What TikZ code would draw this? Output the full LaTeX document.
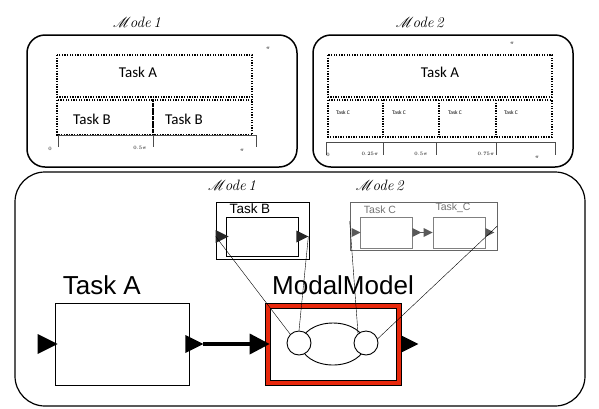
\documentclass[tikz,border=0pt]{standalone}
\usepackage{fontspec}
\usepackage{mathrsfs}
\newfontfamily\calfont{Carlito}
\newfontfamily\helv{Liberation Sans}
\usetikzlibrary{positioning,arrows.meta}

\definecolor{modalred}{RGB}{232,40,12}
\newcommand{\modename}[1]{$\mathscr{M}$\kern-1pt\textit{ode\,#1}}
\newcommand{\tinypi}[1]{{\fontsize{5}{5}\selectfont$#1\pi$}}

\tikzset{
  frame/.style={line width=1.5pt, rounded corners=18pt},
  slot/.style={line width=1.4pt, dash pattern=on 1.3pt off 1.3pt},
  block/.style={draw, line width=0.8pt, fill=white, inner sep=0pt},
  conn/.style={line width=0.4pt},
  modelabel/.style={font=\fontsize{15}{15}\selectfont},
  port/.pic={\fill[#1] (0,-10) -- (20,0) -- (0,10) -- cycle;}
}

\begin{document}
\begin{tikzpicture}[x=1pt, y=-1pt, >=stealth]
  \useasboundingbox (0,0) rectangle (599,408);

  % first schedule
  \node[modelabel] at (137,22) {\modename{1}};
  \draw[frame] (27,35) rectangle (297,167);
  \draw[slot] (57,55) rectangle (252,97);
  \draw[slot] (57,100) rectangle (153,135);
  \draw[slot] (153,100) rectangle (252,135);
  \node[font=\calfont\fontsize{15}{15}\selectfont] at (138,72) {Task A};
  \node[font=\calfont\fontsize{15}{15}\selectfont] at (92,119) {Task B};
  \node[font=\calfont\fontsize{15}{15}\selectfont] at (184,119) {Task B};
  \draw[line width=0.7pt, gray!60!black] (58,147) -- (58,135) -- (256,135) -- (256,147);
  \draw[line width=0.7pt, gray!60!black] (153,135) -- (153,147);
  \node at (50,149) {{\fontsize{5}{5}\selectfont 0}};
  \node at (140,148) {\tinypi{0.5}};
  \node at (242,150) {\tinypi{}};
  \node at (268,48) {\tinypi{}};

  % second schedule
  \node[modelabel] at (420,22) {\modename{2}};
  \draw[frame] (313,35) rectangle (573,167);
  \draw[slot] (328,55) rectangle (552,97);
  \draw[slot] (328,100) rectangle (552,137);
  \foreach \x in {383,439,496}
    \draw[slot] (\x,100) -- (\x,137);
  \foreach \x in {343,399,455,511}
    \node[font=\calfont\fontsize{5.5}{5.5}\selectfont] at (\x,113) {Task C};
  \node[font=\calfont\fontsize{15}{15}\selectfont] at (440,72) {Task A};
  \draw[line width=0.7pt, gray!60!black] (326,155) -- (326,142) -- (555,142) -- (555,155);
  \foreach \x in {383,436,496}
    \draw[line width=0.7pt, gray!60!black] (\x,142) -- (\x,155);
  \node at (328,155) {{\fontsize{5}{5}\selectfont 0}};
  \node at (370,154) {\tinypi{0.25}};
  \node at (421,154) {\tinypi{0.5}};
  \node at (486,154) {\tinypi{0.75}};
  \node at (537,157) {\tinypi{}};
  \node at (512,43) {\tinypi{}};

  % modal model
  \draw[line width=1.2pt, rounded corners=30pt] (15,172) rectangle (585,406);
  \node[modelabel] at (232,185) {\modename{1}};
  \node[modelabel] at (380,185) {\modename{2}};

  \node[block, minimum width=134pt, minimum height=82pt] (taskA) at (122,344) {};
  \node[anchor=south west, inner sep=0pt, font=\helv\fontsize{26}{26}\selectfont]
    at ([xshift=8pt, yshift=8pt]taskA.north west) {Task A};
  \pic at ([xshift=-17pt]taskA.west) {port=black};
  \pic[scale=0.9] at ([xshift=-4pt]taskA.east) {port=black};
  \coordinate (aOut) at ([xshift=14pt]taskA.east);

  \node[draw, fill=modalred, line width=0.6pt, minimum width=136pt, minimum height=82pt] (modal) at (333,344) {};
  \node[block, line width=0.6pt, minimum width=126pt, minimum height=72pt] at (modal) {};
  \node[anchor=south, inner sep=0pt, font=\helv\fontsize{26}{26}\selectfont]
    at ([xshift=10pt, yshift=8pt]modal.north) {ModalModel};
  \draw[line width=0.9pt] (modal.center) ellipse [x radius=32pt, y radius=21pt];
  \node[circle, draw, fill=white, line width=0.9pt, minimum size=24pt, inner sep=0pt] (stA) at (299,343) {};
  \node[circle, draw, fill=white, line width=0.9pt, minimum size=24pt, inner sep=0pt] (stB) at (366,343) {};
  \pic[scale=0.85] at (modal.east) {port=black};

  \draw[line width=3.5pt, -{Triangle[length=20pt, width=20pt]}] (aOut) -- ([xshift=5pt]modal.west);

  % refinement of the first mode
  \node[draw, line width=0.6pt, minimum width=93pt, minimum height=57pt] (refB) at (262.5,230.5) {};
  \node[block, line width=0.7pt, minimum width=72pt, minimum height=39pt] (taskB) at (262,236.5) {};
  \node[font=\helv\fontsize{13.5}{13.5}\selectfont] at (250,209) {Task B};
  \coordinate (bIn) at (refB.west |- taskB.west);
  \coordinate (bOut) at ([xshift=10pt]taskB.east);
  \pic[scale=0.65] at (bIn) {port=black!85};
  \pic[scale=0.6] at ([xshift=-2pt]taskB.east) {port=black!85};

  % refinement of the second mode
  \node[draw=gray!80!black, line width=0.6pt, minimum width=147pt, minimum height=48pt] (refC) at (423.5,226) {};
  \node[block, draw=gray, line width=0.6pt, minimum width=52pt, minimum height=31pt] (c1) at (386,232.5) {};
  \node[block, draw=gray, line width=0.6pt, minimum width=52pt, minimum height=31pt] (c2) at (459,232.5) {};
  \node[text=gray!90!black, font=\helv\fontsize{10.5}{10.5}\selectfont] at (380,210) {Task C};
  \node[text=gray!90!black, font=\helv\fontsize{10.5}{10.5}\selectfont] at (453,208) {Task\_C};
  \pic[scale=0.45] at ([xshift=-8pt]c1.west) {port=black!65};
  \pic[scale=0.45] at (c1.east) {port=black!65};
  \pic[scale=0.45] at ([xshift=-9pt]c2.west) {port=black!65};
  \pic[scale=0.45] at (c2.east) {port=black!65};
  \draw[line width=1pt, black!65] ([xshift=9pt]c1.east) -- ([xshift=-9pt]c2.west);
  \coordinate (cIn) at ([yshift=5pt]refC.west);
  \coordinate (cOut) at (refC.east);

  % mode to refinement
  \draw[conn] (bIn) -- (stA.135);
  \draw[conn] (bOut) -- (stA.north);
  \draw[conn] (cIn) -- (stB.130);
  \draw[conn] (cOut) -- (stB.20);
\end{tikzpicture}
\end{document}
